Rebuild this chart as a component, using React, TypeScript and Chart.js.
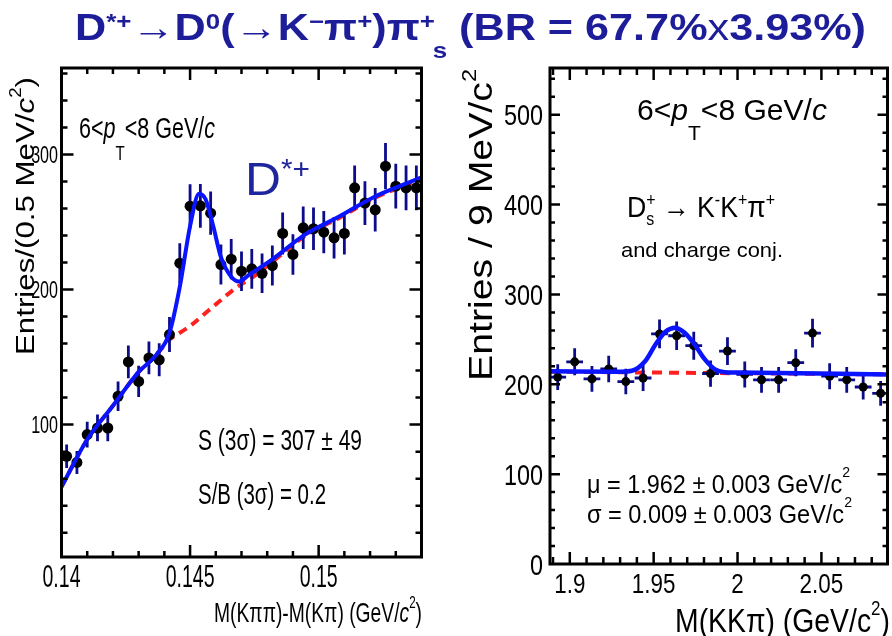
import React, { useEffect, useRef } from 'react';
import { Chart, registerables } from 'chart.js';
Chart.register(...registerables);

// ---------------- data: left panel (D*+ -> D0 pi+) ----------------
const dstarX = [0.1402, 0.1406, 0.1410, 0.1414, 0.1418, 0.1422, 0.1426, 0.1430, 0.1434, 0.1438, 0.1442, 0.1446,
  0.1450, 0.1454, 0.1458, 0.1462, 0.1466, 0.1470, 0.1474, 0.1478, 0.1482, 0.1486, 0.1490, 0.1494, 0.1498, 0.1502,
  0.1506, 0.1510, 0.1514, 0.1518, 0.1522, 0.1526, 0.1530, 0.1534, 0.1538];
const dstarY = [76.5, 72, 92.6, 97.5, 97.5, 121, 146.4, 132, 149.4, 148, 166.7, 219.5, 261.7, 262, 256.5, 218.5,
  222.5, 213.6, 215.3, 212, 217.8, 241.5, 226, 245.7, 245, 242.5, 238.3, 241.5, 275.3, 264, 259, 291.3, 276.5, 275.3, 275.3];
const dstarErr = [8.7, 8.5, 9.6, 9.9, 9.9, 11.0, 12.1, 11.5, 12.2, 12.2, 12.9, 14.8, 16.2, 16.2, 16.0, 14.8, 14.9,
  14.6, 14.7, 14.6, 14.8, 15.5, 15.0, 15.7, 15.7, 15.6, 15.4, 15.5, 16.6, 16.2, 16.1, 17.1, 16.6, 16.6, 16.6];
const dstarFitX = [0.1400, 0.1410, 0.1420, 0.1430, 0.1437, 0.1442, 0.1446, 0.1450, 0.14535, 0.1456, 0.1459, 0.1462,
  0.1466, 0.1469, 0.1473, 0.1481, 0.1495, 0.1508, 0.1521, 0.1540];
const dstarFitY = [54, 89, 114, 139, 152, 168, 202, 247, 271, 267, 247, 224, 209.5, 206, 211, 221, 241, 254, 268, 283];
const dstarBkgX = [0.1400, 0.1410, 0.1420, 0.1430, 0.1437, 0.1442, 0.1446, 0.1450, 0.1455, 0.1460, 0.1465, 0.1470,
  0.1475, 0.1481, 0.1495, 0.1508, 0.1521, 0.1540];
const dstarBkgY = [54, 89, 114, 139, 152, 163, 168, 173, 181, 189, 197, 204, 210, 219, 240, 253, 267, 282];
const leftXTicks = [0.14, 0.145, 0.15];
const leftXTickLabels = ['0.14', '0.145', '0.15'];
const leftYTicks = [100, 200, 300];
const leftYTickLabels = ['100', '200', '300'];

// ---------------- data: right panel (Ds+ -> K K pi) ----------------
const dsX = [1.8928, 1.9029, 1.9132, 1.9232, 1.9334, 1.9437, 1.9535, 1.9637, 1.9739, 1.9839, 1.9940, 2.0043,
  2.0143, 2.0245, 2.0347, 2.0447, 2.0549, 2.0651, 2.0749, 2.0853];
const dsY = [208, 225, 206, 217, 203, 207, 256, 254, 243, 212, 237, 211, 205, 205, 224, 257, 209, 205, 197, 190];
const dsErr = [14.4, 15.0, 14.4, 14.7, 14.2, 14.4, 16.0, 15.9, 15.6, 14.6, 15.4, 14.5, 14.3, 14.3, 15.0, 16.0,
  14.5, 14.3, 14.0, 13.8];
const dsBinHalf = 0.005;
const dsFitX = [1.8882, 1.930, 1.937, 1.945, 1.951, 1.957, 1.9628, 1.9686, 1.9745, 1.9804, 1.9863, 1.9922, 2.000, 2.0894];
const dsFitY = [214.5, 214, 215, 226, 244, 258.5, 263, 257, 244, 228, 217, 213.5, 213, 211];
const dsBkgX = [1.8882, 2.0894];
const dsBkgY = [214, 211];
const rightXTicks = [1.9, 1.95, 2, 2.05];
const rightXTickLabels = ['1.9', '1.95', '2', '2.05'];
const rightYTicks = [0, 100, 200, 300, 400, 500];
const rightYTickLabels = ['0', '100', '200', '300', '400', '500'];

// ---------------- styling ----------------
const FONT = '"Liberation Sans", Arial, Helvetica, sans-serif';
const BLUE = '#0a14ff';
const RED = '#ff2020';
const NAVY = '#0b0b8c';
const TITLE_BLUE = '#1d1d9a';

type Seg = {
  t?: string; it?: boolean; bold?: boolean; sup?: boolean; sub?: boolean; sz?: number; dy?: number;
  stack?: [string, string]; supDy?: number; subDy?: number; subDx?: number;
};

function fnt(size: number, it: boolean, bold: boolean) {
  return `${it ? 'italic ' : ''}${bold ? 'bold ' : ''}${size}px ${FONT}`;
}

function layoutSegs(ctx: CanvasRenderingContext2D, segs: Seg[], size: number, bold: boolean) {
  let x = 0;
  const ops: { t: string; x: number; dy: number; font: string }[] = [];
  for (const s of segs) {
    if (s.stack) {
      const sz = size * (s.sz ?? 0.6);
      const f = fnt(sz, !!s.it, s.bold ?? bold);
      ctx.font = f;
      const w1 = ctx.measureText(s.stack[0]).width;
      const w2 = ctx.measureText(s.stack[1]).width;
      const sdx = (s.subDx ?? 0) * size;
      ops.push({ t: s.stack[0], x, dy: (s.supDy ?? -0.33) * size, font: f });
      ops.push({ t: s.stack[1], x: x + sdx, dy: (s.subDy ?? 0.3) * size, font: f });
      x += Math.max(w1, w2 + sdx);
    } else {
      const rel = s.sz ?? (s.sup || s.sub ? 0.6 : 1);
      const f = fnt(size * rel, !!s.it, s.bold ?? bold);
      ctx.font = f;
      const dy = (s.dy ?? (s.sup ? -0.33 : s.sub ? 0.3 : 0)) * size;
      ops.push({ t: s.t || '', x, dy, font: f });
      x += ctx.measureText(s.t || '').width;
    }
  }
  return { ops, width: x };
}

type RichOpts = {
  x: number; y: number; size: number; width?: number; sx?: number; align?: 'left' | 'center' | 'right';
  color?: string; rot?: number; bold?: boolean;
};

function drawRich(ctx: CanvasRenderingContext2D, segs: Seg[], o: RichOpts) {
  const { ops, width } = layoutSegs(ctx, segs, o.size, !!o.bold);
  const sx = o.width ? o.width / width : (o.sx ?? 1);
  const w = width * sx;
  const off = o.align === 'center' ? -w / 2 : o.align === 'right' ? -w : 0;
  ctx.save();
  ctx.translate(o.x, o.y);
  if (o.rot) ctx.rotate(o.rot);
  ctx.translate(off, 0);
  ctx.scale(sx, 1);
  ctx.fillStyle = o.color || '#000';
  ctx.textBaseline = 'alphabetic';
  ctx.textAlign = 'left';
  for (const op of ops) {
    ctx.font = op.font;
    ctx.fillText(op.t, op.x, op.dy);
  }
  ctx.restore();
}

type PanelCfg = {
  xMajor: number[]; xLabels: string[]; xMinorStart: number; xMinorStep: number;
  yMajor: number[]; yLabels: string[]; yMinorStart: number; yMinorStep: number;
  xMajLen: number; xMinLen: number; yMajLen: number; yMinLen: number;
  xLabelSize: number; xLabelSx: number; xLabelBase: number;
  yLabelSize: number; yLabelSx: number; yLabelRight: number;
  texts: { segs: Seg[]; o: RichOpts }[];
  markerR: number; errX?: number; errW: number;
};

function drawFrame(chart: any, cfg: PanelCfg) {
  const { ctx, chartArea: a } = chart;
  const xs = chart.scales.x;
  const ys = chart.scales.y;
  ctx.save();
  ctx.strokeStyle = '#000';
  ctx.lineCap = 'butt';
  ctx.lineWidth = 2.5;
  ctx.beginPath();
  for (let i = 0; i < 500; i++) {
    const v = cfg.xMinorStart + i * cfg.xMinorStep;
    if (v > xs.max + 1e-9) break;
    if (v < xs.min - 1e-9) continue;
    const major = cfg.xMajor.some((m) => Math.abs(m - v) < cfg.xMinorStep / 10);
    const L = major ? cfg.xMajLen : cfg.xMinLen;
    const px = xs.getPixelForValue(v);
    ctx.moveTo(px, a.bottom); ctx.lineTo(px, a.bottom - L);
    ctx.moveTo(px, a.top); ctx.lineTo(px, a.top + L);
  }
  for (let i = 0; i < 500; i++) {
    const v = cfg.yMinorStart + i * cfg.yMinorStep;
    if (v > ys.max + 1e-9) break;
    if (v < ys.min - 1e-9) continue;
    const major = cfg.yMajor.some((m) => Math.abs(m - v) < cfg.yMinorStep / 10);
    const L = major ? cfg.yMajLen : cfg.yMinLen;
    const py = ys.getPixelForValue(v);
    ctx.moveTo(a.left, py); ctx.lineTo(a.left + L, py);
    ctx.moveTo(a.right, py); ctx.lineTo(a.right - L, py);
  }
  ctx.stroke();
  ctx.lineWidth = 3;
  ctx.strokeRect(a.left, a.top, a.right - a.left, a.bottom - a.top);
  ctx.restore();

  cfg.xMajor.forEach((v, i) => {
    drawRich(ctx, [{ t: cfg.xLabels[i] }], {
      x: xs.getPixelForValue(v), y: cfg.xLabelBase, size: cfg.xLabelSize, sx: cfg.xLabelSx, align: 'center',
    });
  });
  cfg.yMajor.forEach((v, i) => {
    drawRich(ctx, [{ t: cfg.yLabels[i] }], {
      x: cfg.yLabelRight, y: ys.getPixelForValue(v) + cfg.yLabelSize * 0.358, size: cfg.yLabelSize,
      sx: cfg.yLabelSx, align: 'right',
    });
  });
  cfg.texts.forEach((t) => drawRich(ctx, t.segs, t.o));
}

function makePlugin(cfg: PanelCfg, extra?: (chart: any) => void) {
  return {
    id: 'rootStyle',
    beforeDatasetDraw(chart: any, args: any) {
      const ds = chart.data.datasets[args.index];
      if (!ds.errY) return;
      const { ctx } = chart;
      const xs = chart.scales.x;
      const ys = chart.scales.y;
      ctx.save();
      ctx.strokeStyle = NAVY;
      ctx.lineWidth = cfg.errW;
      ctx.beginPath();
      ds.data.forEach((p: any, i: number) => {
        const px = xs.getPixelForValue(p.x);
        ctx.moveTo(px, ys.getPixelForValue(p.y - ds.errY[i]));
        ctx.lineTo(px, ys.getPixelForValue(p.y + ds.errY[i]));
        if (ds.errX) {
          const py = ys.getPixelForValue(p.y);
          ctx.moveTo(xs.getPixelForValue(p.x - ds.errX), py);
          ctx.lineTo(xs.getPixelForValue(p.x + ds.errX), py);
        }
      });
      ctx.stroke();
      ctx.restore();
    },
    afterDatasetsDraw(chart: any) {
      drawFrame(chart, cfg);
      if (extra) extra(chart);
    },
  };
}

const zip = (xs: number[], ys: number[]) => xs.map((x, i) => ({ x, y: ys[i] }));

function buildChart(canvas: HTMLCanvasElement, p: {
  fitX: number[]; fitY: number[]; bkgX: number[]; bkgY: number[]; dX: number[]; dY: number[]; err: number[];
  errX?: number; xmin: number; xmax: number; ymin: number; ymax: number; padding: any; cfg: PanelCfg;
  fitW: number; bkgW: number; dash: number[]; extra?: (chart: any) => void;
}) {
  return new Chart(canvas, {
    type: 'scatter',
    data: {
      datasets: [
        {
          label: 'fit', data: zip(p.fitX, p.fitY), showLine: true, borderColor: BLUE, borderWidth: p.fitW,
          pointRadius: 0, cubicInterpolationMode: 'monotone', order: 0, fill: false,
        } as any,
        {
          label: 'data', data: zip(p.dX, p.dY), pointRadius: p.cfg.markerR, backgroundColor: '#000',
          borderWidth: 0, order: 1, errY: p.err, errX: p.errX,
        } as any,
        {
          label: 'background', data: zip(p.bkgX, p.bkgY), showLine: true, borderColor: RED, borderWidth: p.bkgW,
          borderDash: p.dash, pointRadius: 0, cubicInterpolationMode: 'monotone', order: 2, fill: false,
        } as any,
      ],
    },
    options: {
      animation: false,
      responsive: false,
      devicePixelRatio: 1,
      events: [],
      layout: { padding: p.padding },
      plugins: { legend: { display: false }, tooltip: { enabled: false }, title: { display: false } },
      scales: {
        x: { type: 'linear', min: p.xmin, max: p.xmax, display: false },
        y: { type: 'linear', min: p.ymin, max: p.ymax, display: false },
      },
    },
    plugins: [makePlugin(p.cfg, p.extra)],
  } as any);
}

const leftCfg: PanelCfg = {
  xMajor: leftXTicks, xLabels: leftXTickLabels, xMinorStart: 0.14, xMinorStep: 0.001,
  yMajor: leftYTicks, yLabels: leftYTickLabels, yMinorStart: 20, yMinorStep: 20,
  xMajLen: 12, xMinLen: 6, yMajLen: 12, yMinLen: 6,
  xLabelSize: 31, xLabelSx: 0.63, xLabelBase: 587,
  yLabelSize: 23, yLabelSx: 0.7, yLabelRight: 58,
  markerR: 5.5, errW: 2.8,
  texts: [
    {
      segs: [{ t: '6<' }, { t: 'p', it: true }, { t: 'T', sub: true, sz: 0.7, dy: 0.73 }, { t: '<8 GeV/' }, { t: 'c', it: true }],
      o: { x: 79, y: 138, size: 30, width: 136 },
    },
    {
      segs: [{ t: 'D' }, { t: '*+', sup: true, sz: 0.6, dy: -0.36 }],
      o: { x: 245, y: 195, size: 46, width: 65, color: '#1f259c' },
    },
    { segs: [{ t: 'S (3σ) = 307 ± 49' }], o: { x: 198, y: 450, size: 30, width: 164 } },
    { segs: [{ t: 'S/B (3σ) = 0.2' }], o: { x: 198, y: 504, size: 30, width: 128 } },
    {
      segs: [{ t: 'M(Kππ)-M(Kπ) (GeV/' }, { t: 'c', it: true }, { t: '2', sup: true, dy: -0.49 }, { t: ')' }],
      o: { x: 214, y: 622, size: 28, width: 208 },
    },
    {
      segs: [{ t: 'Entries/(0.5 MeV/' }, { t: 'c', it: true }, { t: '2', sup: true, dy: -0.49 }, { t: ')' }],
      o: { x: 34, y: 216, size: 26, width: 278, align: 'center', rot: -Math.PI / 2 },
    },
  ],
};

const rightCfg: PanelCfg = {
  xMajor: rightXTicks, xLabels: rightXTickLabels, xMinorStart: 1.89, xMinorStep: 0.01,
  yMajor: rightYTicks, yLabels: rightYTickLabels, yMinorStart: 20, yMinorStep: 20,
  xMajLen: 12, xMinLen: 7, yMajLen: 10, yMinLen: 5,
  xLabelSize: 28, xLabelSx: 0.8, xLabelBase: 593,
  yLabelSize: 30, yLabelSx: 0.78, yLabelRight: 543,
  markerR: 4.5, errW: 2.8,
  texts: [
    {
      segs: [{ t: '6<' }, { t: 'p', it: true }, { t: 'T', sub: true, sz: 0.7, dy: 0.67 }, { t: '<8 GeV/' }, { t: 'c', it: true }],
      o: { x: 637, y: 120, size: 30, width: 190 },
    },
    {
      segs: [
        { t: 'D' }, { stack: ['+', 's'], sz: 0.6, supDy: -0.37, subDy: 0.28 }, { t: ' → K' },
        { t: '-', sup: true, dy: -0.37 }, { t: 'K' }, { t: '+', sup: true, dy: -0.37 }, { t: 'π' },
        { t: '+', sup: true, dy: -0.37 },
      ],
      o: { x: 627, y: 217, size: 30, width: 148 },
    },
    { segs: [{ t: 'and charge conj.' }], o: { x: 621, y: 257, size: 21, width: 162 } },
    {
      segs: [{ t: 'μ = 1.962 ± 0.003 GeV/c' }, { t: '2', sup: true, dy: -0.62 }],
      o: { x: 587, y: 493, size: 25.6, width: 263 },
    },
    {
      segs: [{ t: 'σ = 0.009 ± 0.003 GeV/c' }, { t: '2', sup: true, dy: -0.62 }],
      o: { x: 587, y: 523, size: 25.6, width: 265 },
    },
    {
      segs: [{ t: 'M(KKπ) (GeV/c' }, { t: '2', sup: true, dy: -0.5 }, { t: ')' }],
      o: { x: 675, y: 632, size: 34, width: 215 },
    },
    {
      segs: [{ t: 'Entries / 9 MeV/c' }, { t: '2', sup: true, dy: -0.5 }],
      o: { x: 492, y: 225, size: 33, width: 312, align: 'center', rot: -Math.PI / 2 },
    },
  ],
};

const titleSegs: Seg[] = [
  { t: 'D' }, { t: '*+', sup: true, dy: -0.3 }, { t: '→' }, { t: 'D' }, { t: '0', sup: true, dy: -0.3 },
  { t: '(→K' }, { t: '−', sup: true, dy: -0.3 }, { t: 'π' }, { t: '+', sup: true, dy: -0.3 }, { t: ')π' },
  { stack: ['+', 's'], sz: 0.6, supDy: -0.3, subDy: 0.48, subDx: 0.3 },
  { t: ' (BR = 67.7%' }, { t: 'x', bold: false }, { t: '3.93%)' },
];

export default function App() {
  const leftRef = useRef<HTMLCanvasElement>(null);
  const rightRef = useRef<HTMLCanvasElement>(null);

  useEffect(() => {
    const left = buildChart(leftRef.current!, {
      fitX: dstarFitX, fitY: dstarFitY, bkgX: dstarBkgX, bkgY: dstarBkgY, dX: dstarX, dY: dstarY, err: dstarErr,
      xmin: 0.14, xmax: 0.154, ymin: 2, ymax: 364,
      padding: { left: 61.5, top: 68, right: 892 - 421.5, bottom: 636 - 557 },
      cfg: leftCfg, fitW: 4, bkgW: 4, dash: [9, 6],
      extra: (chart: any) => {
        drawRich(chart.ctx, titleSegs, { x: 75, y: 40, size: 37, width: 791, bold: true, color: TITLE_BLUE });
      },
    });
    const right = buildChart(rightRef.current!, {
      fitX: dsFitX, fitY: dsFitY, bkgX: dsBkgX, bkgY: dsBkgY, dX: dsX, dY: dsY, err: dsErr, errX: dsBinHalf,
      xmin: 1.8882, xmax: 2.0894, ymin: 0, ymax: 552,
      padding: { left: 550, top: 68, right: 1, bottom: 636 - 564 },
      cfg: rightCfg, fitW: 4.5, bkgW: 4, dash: [10, 7],
    });
    return () => {
      left.destroy();
      right.destroy();
    };
  }, []);

  const cs: React.CSSProperties = { position: 'absolute', left: 0, top: 0, width: 892, height: 636 };
  return (
    <div style={{ position: 'absolute', left: 0, top: 0, width: 892, height: 636, overflow: 'hidden', background: '#fff' }}>
      <canvas ref={leftRef} width={892} height={636} style={cs} />
      <canvas ref={rightRef} width={892} height={636} style={cs} />
    </div>
  );
}
